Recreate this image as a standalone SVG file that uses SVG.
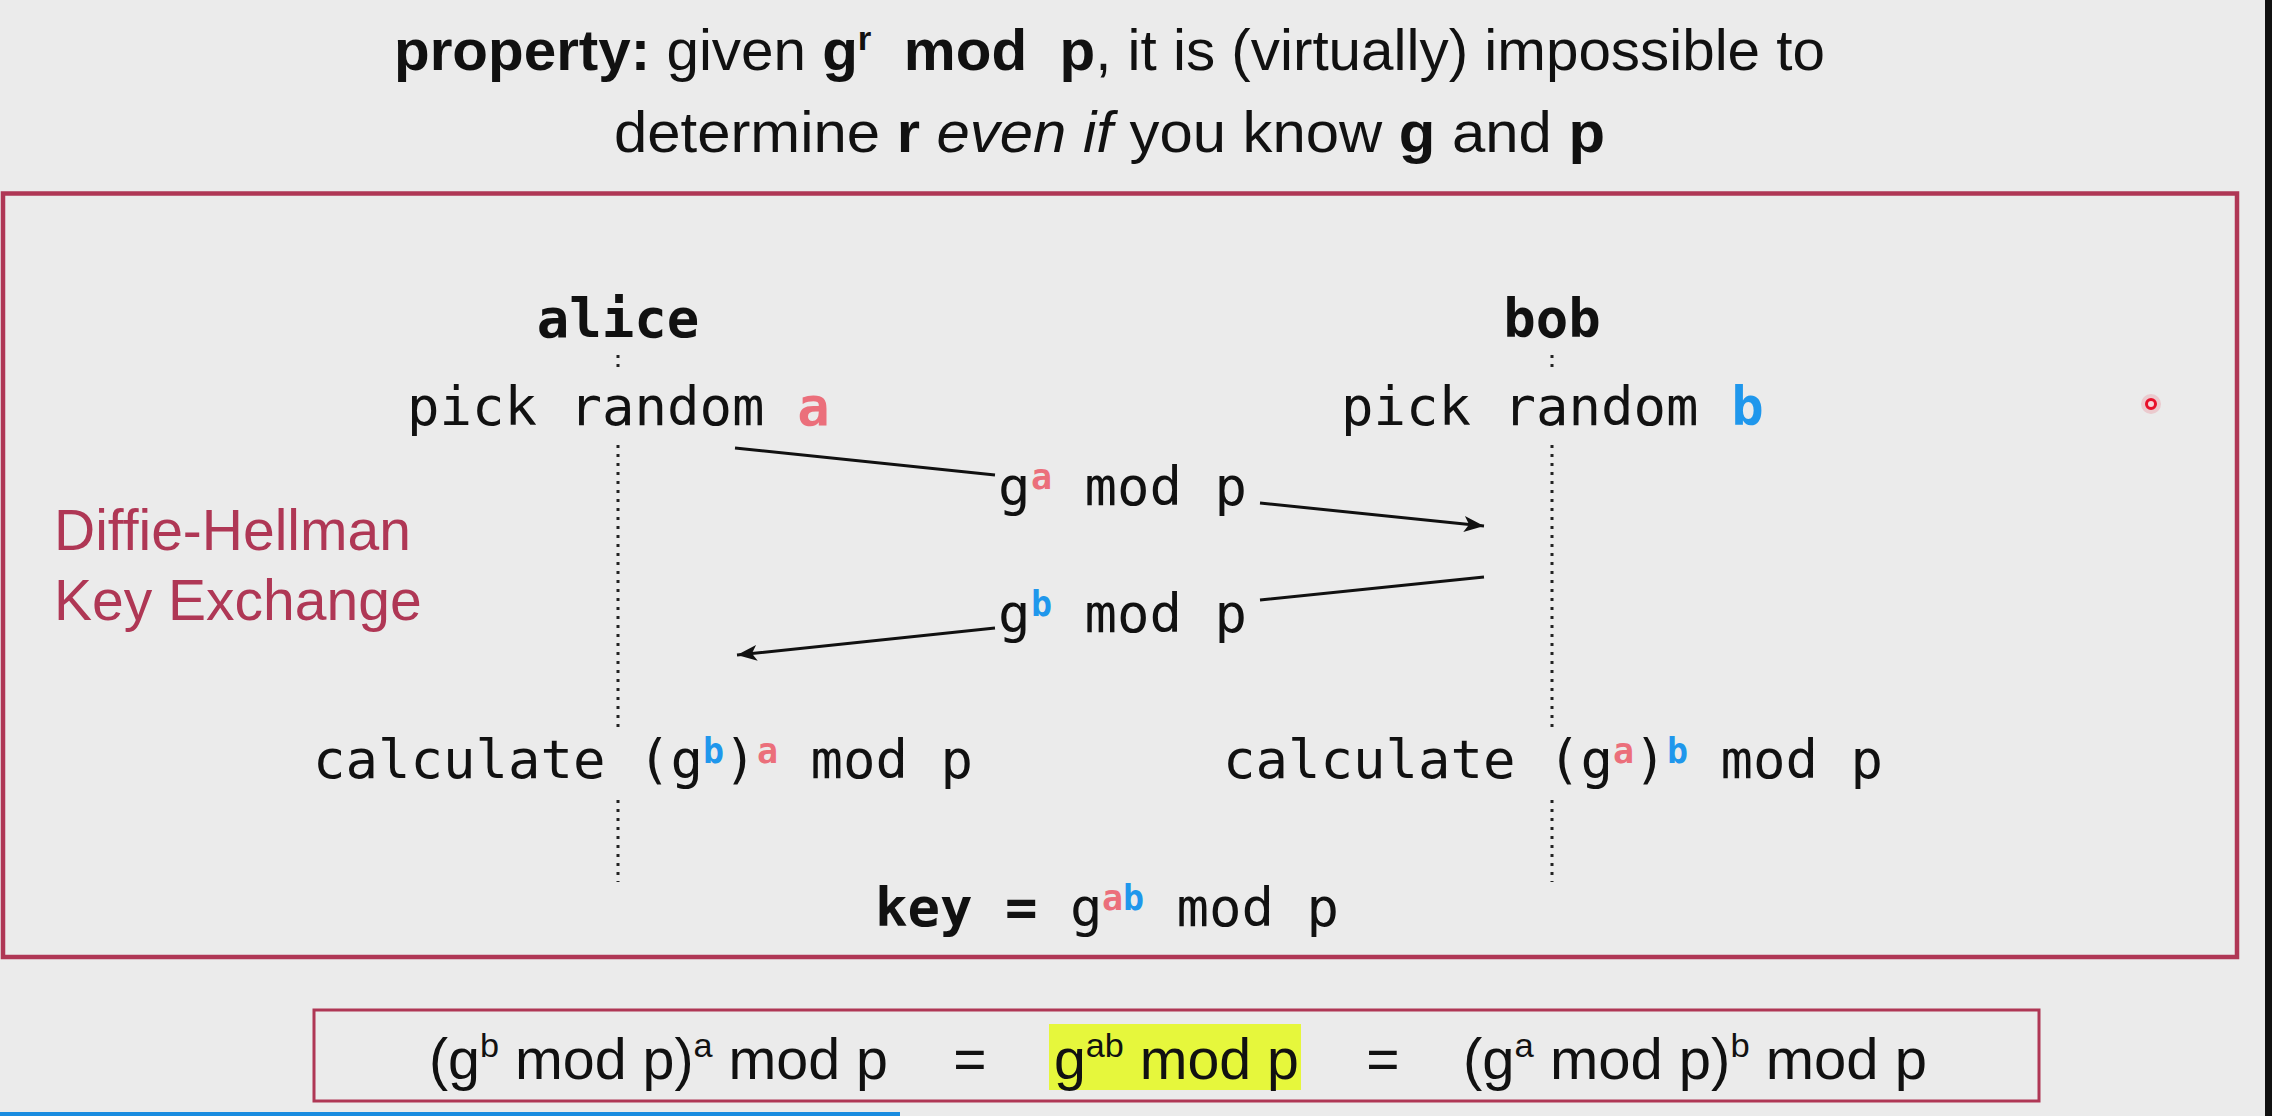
<svg xmlns="http://www.w3.org/2000/svg" width="2272" height="1116" viewBox="0 0 2272 1116">
<defs>
<style>
.sans{font-family:"Liberation Sans",Arial,sans-serif;font-size:57px;fill:#111;white-space:pre}
.mono{font-family:"DejaVu Sans Mono",monospace;font-size:54px;fill:#111;white-space:pre}
.b{font-weight:bold}
.sup{font-size:35px;font-weight:bold}
.ca{fill:#eb6f7b}
.cb{fill:#1f97ec}
.crim{fill:#af3755}
.life{stroke:#222;stroke-width:3;stroke-dasharray:3 6;fill:none}
.arrow{stroke:#111;stroke-width:3;fill:none;marker-end:url(#ah)}
.frame{fill:none;stroke:#af3755}
</style>
<marker id="ah" markerUnits="userSpaceOnUse" markerWidth="22" markerHeight="18" refX="20" refY="9" orient="auto">
<path d="M0,1 L20,9 L0,17 L5,9 z" fill="#111"/>
</marker>
</defs>
<rect x="0" y="0" width="2272" height="1116" fill="#ebebeb"/>
<rect x="2265" y="0" width="7" height="1116" fill="#111"/>
<rect x="0" y="1112" width="900" height="4" fill="#1a8ce0"/>

<g id="title">
<text class="sans" x="394" y="70" textLength="1431" lengthAdjust="spacingAndGlyphs"><tspan class="b">property:</tspan> given <tspan class="b">g</tspan><tspan class="b" font-size="34" dy="-20">r</tspan><tspan class="b" dy="20">  mod  p</tspan>, it is (virtually) impossible to</text>
<text class="sans" x="614" y="152" textLength="991" lengthAdjust="spacingAndGlyphs">determine <tspan class="b">r</tspan> <tspan font-style="italic">even if</tspan> you know <tspan class="b">g</tspan> and <tspan class="b">p</tspan></text>
</g>

<g id="frame-main">
<rect class="frame" x="3" y="193.5" width="2234" height="763.5" stroke-width="4.5"/>
</g>

<g id="label-dh">
<text class="sans crim" x="54" y="550">Diffie-Hellman</text>
<text class="sans crim" x="54" y="620">Key Exchange</text>
</g>

<g id="alice">
<text class="mono b" x="618" y="337" text-anchor="middle">alice</text>
<text class="mono" x="407" y="425">pick random <tspan class="ca b">a</tspan></text>
<text class="mono" y="778"><tspan x="313">calculate (g</tspan><tspan class="sup cb" x="703" y="763">b</tspan><tspan x="724" y="778">)</tspan><tspan class="sup ca" x="757" y="763">a</tspan><tspan x="778" y="778"> mod p</tspan></text>
</g>

<g id="bob">
<text class="mono b" x="1552" y="337" text-anchor="middle">bob</text>
<text class="mono" x="1341" y="425">pick random <tspan class="cb b">b</tspan></text>
<text class="mono" y="778"><tspan x="1223">calculate (g</tspan><tspan class="sup ca" x="1613" y="763">a</tspan><tspan x="1634" y="778">)</tspan><tspan class="sup cb" x="1667" y="763">b</tspan><tspan x="1688" y="778"> mod p</tspan></text>
</g>

<g id="msg-ga">
<text class="mono" y="505"><tspan x="998">g</tspan><tspan class="sup ca" x="1031" y="489">a</tspan><tspan x="1052" y="505"> mod p</tspan></text>
</g>

<g id="msg-gb">
<text class="mono" y="632"><tspan x="998">g</tspan><tspan class="sup cb" x="1031" y="616">b</tspan><tspan x="1052" y="632"> mod p</tspan></text>
</g>

<g id="key">
<text class="mono" y="926"><tspan class="b" x="875">key =</tspan><tspan x="1070">g</tspan><tspan class="sup ca" x="1102" y="910">a</tspan><tspan class="sup cb" x="1123" y="910">b</tspan><tspan x="1144" y="926"> mod p</tspan></text>
</g>

<g id="connectors">
<path class="life" d="M618,355 V368 M618,445 V730 M618,800 V882"/>
<path class="life" d="M1552,355 V368 M1552,445 V730 M1552,800 V882"/>
<path class="arrow" d="M735,448 L995,475 M1260,503 L1484,526"/>
<path class="arrow" d="M1484,577 L1260,600 M995,628 L737,655"/>
</g>

<g id="equation">
<rect class="frame" x="314" y="1010" width="1725" height="91" stroke-width="3"/>
<rect x="1049" y="1024" width="252" height="66" fill="#e6f73c"/>
<text class="sans" x="429" y="1079" textLength="459" lengthAdjust="spacingAndGlyphs">(g<tspan font-size="34" dy="-22">b</tspan><tspan dy="22"> mod p)</tspan><tspan font-size="34" dy="-22">a</tspan><tspan dy="22"> mod p</tspan></text>
<text class="sans" x="970" y="1079" text-anchor="middle">=</text>
<text class="sans" x="1054" y="1079" textLength="245" lengthAdjust="spacingAndGlyphs">g<tspan font-size="34" dy="-22">ab</tspan><tspan dy="22"> mod p</tspan></text>
<text class="sans" x="1383" y="1079" text-anchor="middle">=</text>
<text class="sans" x="1463" y="1079" textLength="464" lengthAdjust="spacingAndGlyphs">(g<tspan font-size="34" dy="-22">a</tspan><tspan dy="22"> mod p)</tspan><tspan font-size="34" dy="-22">b</tspan><tspan dy="22"> mod p</tspan></text>
</g>

<g id="cursor">
<circle cx="2151" cy="404" r="10" fill="#e8102a" opacity="0.15"/>
<circle cx="2151" cy="404" r="4.5" fill="#f6d6da" stroke="#e8102a" stroke-width="3"/>
</g>
</svg>
